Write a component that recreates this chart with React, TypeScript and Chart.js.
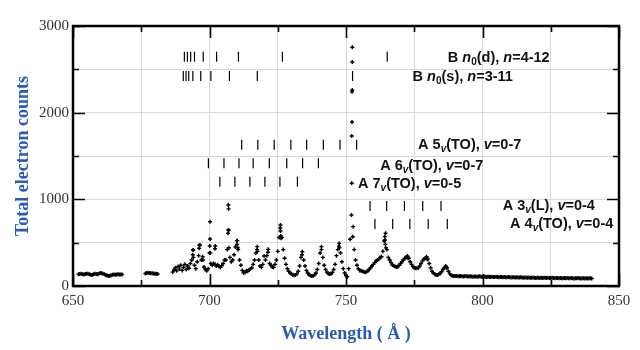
import React, { useEffect, useRef } from 'react';
import { Chart, registerables } from 'chart.js';

Chart.register(...registerables);

// ---------- Spectrum data (wavelength grid step 0.5 Å) ----------
const gridStep = 0.5;

const seg1Start = 652.0;
const seg1Counts = [
  135, 138, 140, 136, 133, 138, 142, 140, 136, 130, 128, 135, 140, 138, 136, 140, 150,
  148, 142, 135, 128, 120, 115, 118, 125, 130, 132, 130, 133, 135, 132, 134, 133,
];

const seg2Start = 676.5;
const seg2Counts = [145, 150, 152, 150, 148, 146, 145, 142, 140, 138];

const seg3Start = 686.5;
const seg3Counts = [
  160, 185, 210, 175, 225, 195, 240, 180, 215, 250,
  190, 230, 205, 260, 300, 415, 240, 200, 280, 350,
  473, 300, 338, 220, 190, 175, 200, 380, 260, 240,
  260, 250, 230, 245, 225, 215, 235, 260, 300, 300,
  420, 646, 330, 280, 300, 360, 450, 523, 420, 300,
  240, 180, 150, 160, 175, 170, 185, 200, 210, 250,
  300, 380, 454, 300, 230, 215, 250, 346, 300, 350,
  423, 260, 240, 220, 215, 250, 300, 400, 560, 704,
  560, 420, 320, 250, 200, 170, 150, 140, 130, 125,
  128, 140, 170, 230, 330, 396, 300, 230, 180, 150,
  130, 120, 115, 118, 130, 150, 190, 260, 380, 454,
  330, 240, 190, 160, 145, 138, 142, 155, 190, 250,
  350, 420, 492, 380, 280, 200, 150, 120, 108, 200,
  539, 819, 569, 420, 300, 240, 200, 180, 175, 170,
  165, 160, 165, 175, 190, 210, 230, 250, 270, 285,
  300, 310, 330, 338, 400, 520, 608, 420, 330, 300,
  270, 242, 235, 225, 220, 223, 240, 260, 280, 300,
  320, 330, 346, 320, 280, 250, 225, 210, 205, 204,
  210, 230, 260, 290, 310, 320, 338, 310, 260, 210,
  170, 150, 135, 127, 128, 135, 145, 165, 190, 210,
  231, 210, 170, 140, 125, 118, 115, 114, 116, 113,
  112, 115, 113, 110, 112, 114, 111, 109, 112, 110,
  108, 111, 109, 107, 110, 112, 108, 106, 109, 107,
  105, 108, 106, 104, 107, 105, 103, 106, 104, 102,
  105, 103, 101, 104, 102, 100, 103, 101, 99, 102,
  100, 98, 101, 99, 97, 100, 98, 96, 99, 97,
  95, 98, 96, 94, 97, 95, 93, 96, 94, 92,
  95, 93, 96, 94, 92, 95, 93, 91, 94, 92,
  90, 93, 91, 89, 92, 90, 88, 91, 89, 92,
  90, 88, 91, 89, 87, 90, 88, 91, 89, 87,
  90, 88, 86, 89, 87, 90, 88, 86,
];

// extra points on the steep peaks
const peakWavelengths = [
  693.9, 694.0, 694.1, 696.2, 696.3, 697.6, 700.1, 700.2, 700.2, 700.3, 702.0, 702.1,
  706.8, 706.9, 706.9, 707.0, 707.1, 710.1, 710.2, 710.4, 717.4, 717.6, 721.4, 725.9,
  726.0, 726.1, 726.2, 733.9, 741.0, 747.4, 747.6, 752.1, 752.1, 752.2, 752.2, 752.3,
  752.3, 752.3, 752.6, 764.2, 764.3, 764.4, 764.6, 772.7, 779.7, 786.8,
];
const peakCounts = [
  360, 415, 330, 435, 470, 300, 462, 542, 742, 380, 430, 462,
  608, 646, 935, 890, 442, 480, 523, 440, 420, 400, 390, 670,
  635, 577, 550, 360, 420, 460, 440, 1185, 1731, 1893, 2240, 2262,
  2585, 2754, 685, 570, 530, 480, 440, 320, 310, 210,
];

// ---------- Band-head series (wavelengths of marker lines) ----------
const bdLines = [690.8, 691.9, 693.1, 694.5, 697.7, 702.6, 710.6, 726.7, 765.1];
const bsLines = [690.4, 691.4, 692.4, 693.9, 696.8, 700.5, 707.3, 717.5, 752.4];
const a5Lines = [711.8, 717.7, 723.7, 729.8, 735.6, 741.7, 747.8, 753.9];
const a6Lines = [699.6, 705.3, 710.8, 716.0, 721.9, 728.3, 734.1, 739.9];
const a7Lines = [703.8, 709.3, 714.8, 720.3, 725.8, 732.2];
const a3Lines = [758.8, 764.9, 771.4, 778.1, 784.8];
const a4Lines = [760.6, 767.1, 773.4, 780.1, 787.1];
const seriesLines = [bdLines, bsLines, a5Lines, a6Lines, a7Lines, a3Lines, a4Lines];
const seriesLevels = [2646, 2423, 1630, 1416, 1204, 923, 715];

// label text parts: n = normal, i = italic, sub = subscript, subi = italic subscript
type Part = [string, 'n' | 'i' | 'sub' | 'subi'];
const seriesLabels: Part[][] = [
  [['B ', 'n'], ['n', 'i'], ['0', 'sub'], ['(d), ', 'n'], ['n', 'i'], ['=4-12', 'n']],
  [['B ', 'n'], ['n', 'i'], ['0', 'sub'], ['(s), ', 'n'], ['n', 'i'], ['=3-11', 'n']],
  [['A 5', 'n'], ['v', 'subi'], ['(TO), ', 'n'], ['v', 'i'], ['=0-7', 'n']],
  [['A 6', 'n'], ['v', 'subi'], ['(TO), ', 'n'], ['v', 'i'], ['=0-7', 'n']],
  [['A 7', 'n'], ['v', 'subi'], ['(TO), ', 'n'], ['v', 'i'], ['=0-5', 'n']],
  [['A 3', 'n'], ['v', 'subi'], ['(L), ', 'n'], ['v', 'i'], ['=0-4', 'n']],
  [['A 4', 'n'], ['v', 'subi'], ['(TO), ', 'n'], ['v', 'i'], ['=0-4', 'n']],
];
const labelAnchorX = [787.3, 774.4, 776.4, 762.5, 754.4, 807.4, 810.1];
const labelAnchorY = [2642, 2423, 1639, 1396, 1189, 935, 727];

const xTitle = 'Wavelength ( Å )';
const yTitle = 'Total electron counts';

const seg = (start: number, vals: number[]) => vals.map((v, i) => ({ x: start + i * gridStep, y: v }));

const spectrum = [
  ...seg(seg1Start, seg1Counts),
  ...seg(seg2Start, seg2Counts),
  ...seg(seg3Start, seg3Counts),
  ...peakWavelengths.map((x, i) => ({ x, y: peakCounts[i] })),
];

const decorPlugin = {
  id: 'decor',
  afterDatasetsDraw(chart: any) {
    const { ctx, chartArea: a, scales } = chart;
    const xs = scales.x;
    const ys = scales.y;
    ctx.save();
    // frame
    ctx.strokeStyle = '#000';
    ctx.lineWidth = 2.5;
    ctx.strokeRect(a.left, a.top, a.right - a.left, a.bottom - a.top);
    // inward ticks
    ctx.lineWidth = 1.6;
    ctx.beginPath();
    for (let v = 650; v <= 850; v += 25) {
      const px = Math.round(xs.getPixelForValue(v)) + 0.5;
      const len = v % 50 === 0 ? 12 : 6;
      ctx.moveTo(px, a.bottom);
      ctx.lineTo(px, a.bottom - len);
      ctx.moveTo(px, a.top);
      ctx.lineTo(px, a.top + len);
    }
    for (let v = 0; v <= 3000; v += 500) {
      const py = Math.round(ys.getPixelForValue(v)) + 0.5;
      const len = v % 1000 === 0 ? 12 : 6;
      ctx.moveTo(a.left, py);
      ctx.lineTo(a.left + len, py);
      ctx.moveTo(a.right, py);
      ctx.lineTo(a.right - len, py);
    }
    ctx.stroke();

    // series labels
    ctx.fillStyle = '#111';
    ctx.textBaseline = 'alphabetic';
    ctx.textAlign = 'left';
    const fam = '"Liberation Sans", Arial, sans-serif';
    seriesLabels.forEach((parts, k) => {
      let x = xs.getPixelForValue(labelAnchorX[k]);
      const y = ys.getPixelForValue(labelAnchorY[k]) + 5;
      parts.forEach(([t, s]) => {
        let yy = y;
        if (s === 'n') ctx.font = `bold 14.5px ${fam}`;
        else if (s === 'i') ctx.font = `italic bold 14.5px ${fam}`;
        else if (s === 'sub') { ctx.font = `bold 10px ${fam}`; yy = y + 3; }
        else { ctx.font = `italic bold 10px ${fam}`; yy = y + 3; }
        ctx.fillText(t, x, yy);
        x += ctx.measureText(t).width;
      });
    });

    // axis titles
    ctx.fillStyle = '#2b5bb5';
    ctx.font = 'bold 18px "Liberation Serif", "Times New Roman", serif';
    ctx.textAlign = 'center';
    ctx.textBaseline = 'alphabetic';
    ctx.fillText(xTitle, (a.left + a.right) / 2, 339);
    ctx.translate(28, 156);
    ctx.rotate(-Math.PI / 2);
    ctx.fillText(yTitle, 0, 0);
    ctx.restore();
  },
};

export default function App() {
  const ref = useRef<HTMLCanvasElement | null>(null);
  useEffect(() => {
    document.body.style.margin = '0';
    if (!ref.current) return;
    const lineSets = seriesLines.map((xsArr, k) => ({
      data: xsArr.map((x) => ({ x, y: seriesLevels[k] })),
      pointStyle: 'line' as const,
      rotation: 90,
      pointRadius: 5,
      borderWidth: 1.2,
      borderColor: '#000',
      backgroundColor: '#000',
      showLine: false,
    }));
    const chart = new Chart(ref.current, {
      type: 'scatter',
      data: {
        datasets: [
          {
            data: spectrum,
            pointStyle: 'cross',
            pointRadius: 2,
            borderWidth: 1.4,
            borderColor: '#000',
            backgroundColor: '#000',
            showLine: false,
          },
          ...lineSets,
        ],
      },
      options: {
        responsive: false,
        animation: false,
        events: [],
        layout: { padding: { top: 26, right: 21, left: 0, bottom: 0 } },
        plugins: { legend: { display: false }, tooltip: { enabled: false }, title: { display: false } },
        scales: {
          x: {
            type: 'linear',
            min: 650,
            max: 850,
            afterFit: (s: any) => { s.height = 64; },
            border: { display: false },
            grid: { color: '#d9d9d9', lineWidth: 1, drawTicks: false },
            ticks: {
              stepSize: 25,
              autoSkip: false,
              maxRotation: 0,
              padding: 6,
              color: '#333',
              font: { family: '"Liberation Serif", "Times New Roman", serif', size: 15 },
              callback: (v: any) => (Number(v) % 50 === 0 ? String(v) : ''),
            },
          },
          y: {
            type: 'linear',
            min: 0,
            max: 3000,
            afterFit: (s: any) => { s.width = 73; },
            border: { display: false },
            grid: { color: '#d9d9d9', lineWidth: 1, drawTicks: false },
            ticks: {
              stepSize: 500,
              autoSkip: false,
              padding: 4,
              color: '#333',
              font: { family: '"Liberation Serif", "Times New Roman", serif', size: 15 },
              callback: (v: any) => (Number(v) % 1000 === 0 ? String(v) : ''),
            },
          },
        },
      },
      plugins: [decorPlugin],
    });
    return () => chart.destroy();
  }, []);
  return (
    <div style={{ position: 'absolute', left: 0, top: 0, width: 640, height: 350 }}>
      <canvas ref={ref} width={640} height={350} />
    </div>
  );
}
